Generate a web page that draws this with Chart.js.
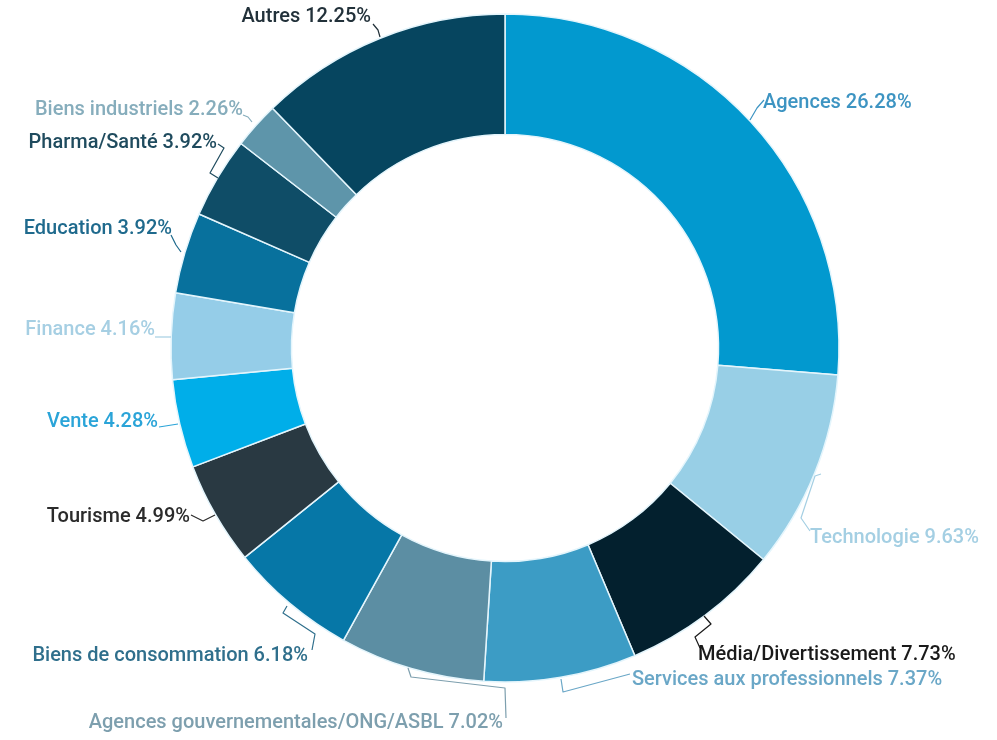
<!DOCTYPE html>
<html lang="fr">
<head>
<meta charset="utf-8">
<title>Répartition par secteur</title>
<script src="https://cdn.jsdelivr.net/npm/chart.js@4.4.1/dist/chart.umd.min.js"></script>
<style>
  html, body { margin: 0; padding: 0; background: #ffffff; }
  #wrap { width: 997px; height: 740px; position: relative; }
</style>
</head>
<body>
<div id="wrap"><canvas id="chart" width="997" height="740"></canvas></div>
<script>
// Sectors, clockwise from 12 o'clock
const categories = [
  'Agences', 'Technologie', 'Média/Divertissement', 'Services aux professionnels',
  'Agences gouvernementales/ONG/ASBL', 'Biens de consommation', 'Tourisme', 'Vente',
  'Finance', 'Education', 'Pharma/Santé', 'Biens industriels', 'Autres'
];
// Share of each sector, in percent
const shares = [26.28, 9.63, 7.73, 7.37, 7.02, 6.18, 4.99, 4.28, 4.16, 3.92, 3.92, 2.26, 12.25];

// Slice fills and label colours
const sliceColors = [
  '#0299cf', '#98cfe6', '#03202e', '#3c9cc5', '#5c8ea3', '#0677a7', '#293942',
  '#00aee9', '#95cde8', '#08719d', '#0f4d67', '#5e95aa', '#06455f'
];
const labelColors = [
  '#3d94c2', '#a4cfe3', '#1a1a1a', '#6aa7c7', '#7d9fae', '#2f6f8c', '#2b2b2b',
  '#2aa4d8', '#a6cfe3', '#1f6a8d', '#1f4b5e', '#86adbc', '#22313a'
];

// Label placement, offsets in px from the ring centre:
// text anchor [dx, dy, align] and the leader polyline running from the ring to the text
const labelAnchors = [
  [258, -245, 'left'], [305, 190, 'left'], [193, 307, 'left'], [127, 332, 'left'],
  [-2, 375, 'right'], [-197, 308, 'right'], [-315, 169, 'right'], [-347, 74, 'right'],
  [-350, -18, 'right'], [-333, -119, 'right'], [-288, -205, 'right'], [-262, -238, 'right'],
  [-134, -331, 'right']
];
const leaderPaths = [
  [[245, -228], [252, -240], [259, -248]],
  [[316, 126], [310, 128], [296, 170], [305, 183]],
  [[199, 268], [206, 276], [190, 289], [195, 300]],
  [[56, 331], [58, 344], [125, 326]],
  [[-97, 320], [-94, 329], [0, 340], [1, 370]],
  [[-218, 258], [-222, 265], [-190, 286], [-193, 302]],
  [[-314, 167], [-302, 173], [-290, 167]],
  [[-346, 79], [-327, 76]],
  [[-350, -11], [-334, -11]],
  [[-334, -113], [-329, -103], [-324, -96]],
  [[-287, -204], [-281, -200], [-295, -175], [-287, -170]],
  [[-262, -233], [-257, -231], [-253, -226]],
  [[-132, -324], [-127, -318], [-125, -311]]
];

const LABEL_FONT = '500 20px Roboto, "Noto Sans", Arial, sans-serif';

// Draws the "Sector xx.xx%" labels and their leader lines around the ring
const sectorLabels = {
  id: 'sectorLabels',
  afterDatasetsDraw(chart) {
    const ctx = chart.ctx;
    const arc = chart.getDatasetMeta(0).data[0];
    if (!arc) return;
    const cx = arc.x, cy = arc.y;
    ctx.save();
    ctx.font = LABEL_FONT;
    ctx.textBaseline = 'middle';
    shares.forEach((v, i) => {
      const path = leaderPaths[i];
      ctx.beginPath();
      path.forEach(([dx, dy], k) => {
        if (k === 0) ctx.moveTo(cx + dx, cy + dy);
        else ctx.lineTo(cx + dx, cy + dy);
      });
      ctx.strokeStyle = labelColors[i];
      ctx.lineWidth = 1.2;
      ctx.lineJoin = 'round';
      ctx.stroke();

      const [tx, ty, align] = labelAnchors[i];
      ctx.textAlign = align;
      ctx.fillStyle = labelColors[i];
      ctx.fillText(categories[i] + ' ' + v.toFixed(2) + '%', cx + tx, cy + ty);
    });
    ctx.restore();
  }
};

new Chart(document.getElementById('chart'), {
  type: 'doughnut',
  data: {
    labels: categories,
    datasets: [{
      data: shares,
      backgroundColor: sliceColors,
      borderColor: '#e4f5fc',
      borderWidth: 1.5,
      hoverOffset: 0
    }]
  },
  options: {
    responsive: false,
    animation: false,
    radius: 334,
    cutout: 222,
    layout: { padding: { left: 13, right: 0, top: 0, bottom: 44 } },
    plugins: {
      legend: { display: false },
      tooltip: { enabled: false }
    }
  },
  plugins: [sectorLabels]
});
</script>
</body>
</html>
